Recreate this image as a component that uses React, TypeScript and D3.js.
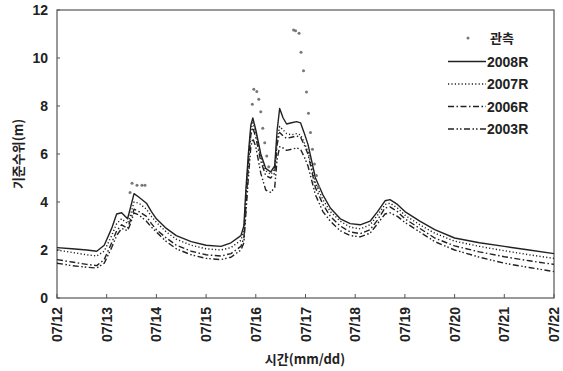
import React from "react";
import * as d3 from "d3";

// days elapsed since 07/12 00:00
const dayLabels = ["07/12", "07/13", "07/14", "07/15", "07/16", "07/17", "07/18", "07/19", "07/20", "07/21", "07/22"];
const yTicks = [0, 2, 4, 6, 8, 10, 12];

const times = [0, 0.3, 0.6, 0.8, 0.95, 1.1, 1.2, 1.3, 1.42, 1.47, 1.55, 1.65, 1.8, 1.9, 2.0, 2.2, 2.4, 2.7, 3.0, 3.3,
  3.5, 3.7, 3.76, 3.8, 3.85, 3.9, 3.94, 4.0, 4.1, 4.2, 4.3, 4.38, 4.43, 4.48, 4.55, 4.62, 4.72, 4.82, 4.9, 4.97,
  5.05, 5.2, 5.35, 5.5, 5.7, 5.9, 6.1, 6.3, 6.45, 6.6, 6.7, 6.85, 7.0, 7.3, 7.6, 8.0, 8.5, 9.0, 9.5, 10];

const r2008 = [2.1, 2.05, 2.0, 1.95, 2.2, 2.9, 3.5, 3.55, 3.3, 3.7, 4.35, 4.2, 3.95, 3.6, 3.3, 2.9, 2.6, 2.35, 2.2, 2.15,
  2.3, 2.6, 3.0, 4.5, 6.0, 7.2, 7.5, 7.0, 6.0, 5.4, 5.25, 5.5, 7.0, 7.9, 7.5, 7.25, 7.3, 7.35, 7.3, 6.9,
  6.4, 5.0, 4.3, 3.75, 3.3, 3.1, 3.05, 3.2, 3.6, 4.05, 4.1, 3.9, 3.6, 3.2, 2.85, 2.5, 2.3, 2.15, 2.0, 1.85];

const r2007 = [2.0, 1.9, 1.8, 1.75, 1.95, 2.6, 3.1, 3.3, 3.1, 3.4, 4.0, 3.95, 3.7, 3.4, 3.15, 2.75, 2.45, 2.2, 2.05, 2.0,
  2.1, 2.4, 2.8, 4.2, 5.8, 7.0, 7.3, 6.9, 5.9, 5.3, 5.15, 5.35, 6.6, 7.15, 7.0, 6.85, 6.8, 6.85, 6.8, 6.5,
  6.1, 4.8, 4.1, 3.6, 3.2, 2.95, 2.88, 3.05, 3.45, 3.9, 3.95, 3.75, 3.45, 3.05, 2.7, 2.37, 2.15, 1.97, 1.8, 1.65];

const r2006 = [1.6, 1.5, 1.4, 1.35, 1.6, 2.3, 2.8, 3.05, 2.9, 3.2, 3.7, 3.6, 3.4, 3.1, 2.85, 2.5, 2.2, 1.95, 1.8, 1.75,
  1.85, 2.15, 2.5, 3.8, 5.5, 6.8, 7.1, 6.7, 5.7, 5.1, 5.0, 5.2, 6.4, 6.9, 6.75, 6.65, 6.7, 6.75, 6.7, 6.4,
  6.0, 4.6, 3.9, 3.4, 3.0, 2.75, 2.68, 2.85, 3.25, 3.75, 3.8, 3.6, 3.3, 2.9, 2.5, 2.17, 1.92, 1.72, 1.55, 1.4];

const r2003 = [1.45, 1.35, 1.28, 1.25, 1.45, 2.1, 2.6, 2.9, 2.8, 3.05, 3.55, 3.45, 3.2, 2.95, 2.75, 2.35, 2.05, 1.8, 1.65, 1.6,
  1.7, 2.0, 2.3, 3.5, 5.0, 6.3, 6.65, 6.3, 5.2, 4.5, 4.4, 4.6, 5.8, 6.3, 6.25, 6.15, 6.2, 6.25, 6.2, 5.9,
  5.5, 4.3, 3.6, 3.2, 2.8, 2.6, 2.55, 2.7, 3.1, 3.5, 3.55, 3.4, 3.15, 2.75, 2.35, 2.0, 1.7, 1.45, 1.27, 1.1];

const obsTimes = [1.47, 1.51, 1.61, 1.71, 1.77, 3.93, 3.96, 4.02, 4.06, 4.1, 4.14, 4.18, 4.22, 4.26,
  4.76, 4.8, 4.87, 4.91, 4.96, 5.02, 5.06, 5.1, 5.14, 5.18, 5.22, 5.26];
const obsValues = [4.4, 4.78, 4.7, 4.7, 4.7, 8.07, 8.7, 8.6, 8.28, 7.76, 7.07, 6.47, 5.92, 5.47,
  11.17, 11.14, 11.03, 10.24, 9.47, 8.58, 7.7, 6.9, 6.2, 5.58, 5.1, 4.64];

const seriesNames = ["2008R", "2007R", "2006R", "2003R"];
const seriesValues = [r2008, r2007, r2006, r2003];
const seriesDash = [null, "1.2,2.2", "6,2.5,1.5,2.5", "6,2.5,1.5,2,1.5,2.5"];

const W = 563, H = 371;
const M = { left: 57, right: 554, top: 10, bottom: 298 };

export default function App() {
  const x = d3.scaleLinear().domain([0, 10]).range([M.left, M.right]);
  const y = d3.scaleLinear().domain([0, 12]).range([M.bottom, M.top]);
  const line = d3.line<number>().x((_, i) => x(times[i])).y((v) => y(v));
  const numFont = "'Liberation Sans', Arial, sans-serif";
  const krFont = "'Noto Sans CJK KR', 'Noto Sans', sans-serif";
  const ink = "#222";
  const legendRows = [61.5, 84, 106.5, 129];

  return (
    <svg width={W} height={H} style={{ position: "absolute", left: 0, top: 0, background: "#fff" }}>
      <rect x={0} y={0} width={W} height={H} fill="#fff" />
      {/* plot frame */}
      <rect x={M.left} y={M.top} width={M.right - M.left} height={M.bottom - M.top} fill="none" stroke="#555" strokeWidth={1.2} />
      {/* y ticks */}
      {yTicks.map((t) => (
        <g key={"y" + t}>
          <line x1={M.left} x2={M.left + 3} y1={y(t)} y2={y(t)} stroke="#555" strokeWidth={1} />
          <text x={48} y={y(t)} dy="0.36em" textAnchor="end" fontFamily={numFont} fontWeight="bold" fontSize={14} fill={ink}>
            {t}
          </text>
        </g>
      ))}
      {/* x ticks */}
      {dayLabels.map((lab, i) => (
        <g key={lab}>
          <line x1={x(i)} x2={x(i)} y1={M.bottom} y2={M.bottom - 4} stroke="#555" strokeWidth={1} />
          <text
            transform={`translate(${x(i)},${M.bottom + 9}) rotate(-90)`}
            dy="0.36em"
            textAnchor="end"
            fontFamily={numFont}
            fontWeight="bold"
            fontSize={14}
            fill={ink}
          >
            {lab}
          </text>
        </g>
      ))}
      {/* axis titles */}
      <text x={305} y={364} textAnchor="middle" fontFamily={krFont} fontWeight="bold" fontSize={13} fill={ink}>
        시간(mm/dd)
      </text>
      <text transform="translate(18,154) rotate(-90)" dy="0.36em" textAnchor="middle" fontFamily={krFont} fontWeight="bold" fontSize={13} fill={ink}>
        기준수위(m)
      </text>
      {/* series */}
      {seriesValues.map((vals, k) => (
        <path
          key={seriesNames[k]}
          d={line(vals) || ""}
          fill="none"
          stroke={ink}
          strokeWidth={1.4}
          strokeDasharray={seriesDash[k] || undefined}
          strokeLinejoin="round"
        />
      ))}
      {/* observed */}
      {obsTimes.map((t, i) => (
        <circle key={"o" + i} cx={x(t)} cy={y(obsValues[i])} r={1.5} fill="#777" />
      ))}
      {/* legend */}
      <circle cx={468} cy={38} r={1.5} fill="#777" />
      <text x={490} y={38} dy="0.36em" fontFamily={krFont} fontWeight="bold" fontSize={13} fill={ink}>
        관측
      </text>
      {seriesNames.map((n, k) => (
        <g key={"lg" + n}>
          <line x1={448} x2={486} y1={legendRows[k]} y2={legendRows[k]} stroke={ink} strokeWidth={1.4} strokeDasharray={seriesDash[k] || undefined} />
          <text x={487} y={legendRows[k]} dy="0.36em" fontFamily={numFont} fontWeight="bold" fontSize={14} fill={ink}>
            {n}
          </text>
        </g>
      ))}
    </svg>
  );
}
